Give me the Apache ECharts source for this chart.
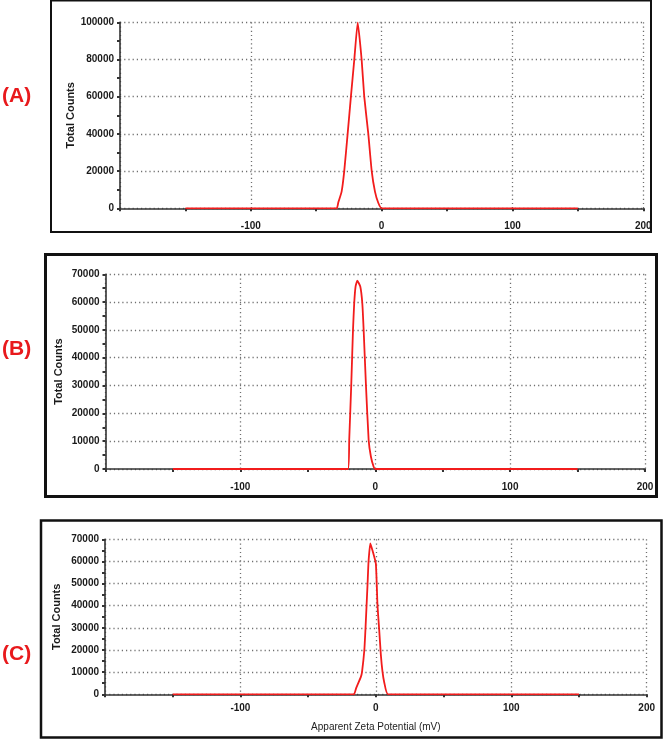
<!DOCTYPE html>
<html>
<head>
<meta charset="utf-8">
<script src="https://cdn.jsdelivr.net/npm/echarts@6/dist/echarts.min.js"></script>
<style>
html,body{margin:0;padding:0;background:#fff;}
#chart{width:664px;height:739px;}
</style>
</head>
<body>
<div id="chart"></div>
<script>
// ---- data (mV, total counts) ----
const panelLabels = ['(A)', '(B)', '(C)'];
const xTitle = 'Apparent Zeta Potential (mV)';
const yTitle = 'Total Counts';
const xMin = -200, xMax = 200, xStep = 100;
const yMaxA = 100000, yStepA = 20000;
const yMaxB = 70000, yStepB = 10000;
const yMaxC = 70000, yStepC = 10000;

const seriesA = [[-150,0],[-34.4,0],[-33.2,3000],[-30.6,9000],[-28.6,20000],[-26,40000],[-23.5,60000],[-20.9,80000],[-18.3,100000],[-15.3,80000],[-13.3,60000],[-10.2,40000],[-7.6,20000],[-5.1,9000],[-2.6,3000],[0,0],[150,0]];
const seriesB = [[-150,0],[-20.2,0],[-19.3,10400],[-17.8,30200],[-16.5,50000],[-15.6,59600],[-14.6,65600],[-13.3,67700],[-11.1,65600],[-9.6,59600],[-8.6,50000],[-6.9,30200],[-4.9,10400],[-3.2,4400],[-1.2,800],[0,0],[150,0]];
const seriesC = [[-150,0],[-16.3,0],[-14.6,2700],[-11.0,8000],[-10.2,10100],[-8.5,20000],[-7.6,30300],[-6.1,50100],[-5.4,59900],[-4.1,68200],[-2.4,64800],[0,59000],[1.2,40300],[2.4,29800],[3.7,17800],[4.9,10200],[6.1,5700],[9,0],[150,0]];

// ---- layout ----
const grids = [
  {left: 120, top: 22.3, width: 523.3, height: 186},
  {left: 105.5, top: 274.3, width: 539.5, height: 194.7},
  {left: 105, top: 539.3, width: 541.7, height: 155}
];
const yCfg = [[yMaxA, yStepA], [yMaxB, yStepB], [yMaxC, yStepC]];
const data = [seriesA, seriesB, seriesC];
const xLabelMargin = [13, 13, 9];
const yNameGap = [44, 41.5, 42.5];

const axisColor = '#333';
const gridLine = {show: true, lineStyle: {color: '#6f6f6f', type: [1.2, 3], width: 1.3}};
const font = 'Liberation Sans, Arial, sans-serif';

const option = {
  animation: false,
  backgroundColor: '#fff',
  grid: grids.map(g => Object.assign({containLabel: false}, g)),
  xAxis: grids.map((g, i) => ({
    gridIndex: i, type: 'value', min: xMin, max: xMax, interval: xStep,
    axisLine: {show: true, onZero: false, lineStyle: {color: axisColor, width: 1.6}},
    axisTick: {show: true, length: 3, lineStyle: {color: axisColor, width: 2}},
    minorTick: {show: true, splitNumber: 2, length: 3, lineStyle: {color: axisColor, width: 2}},
    splitLine: gridLine,
    axisLabel: {
      color: '#1a1a1a', fontSize: 10, fontWeight: 'bold', fontFamily: font, margin: xLabelMargin[i],
      formatter: v => (v === xMin ? '' : String(v))
    },
    name: i === 2 ? xTitle : '', nameLocation: 'middle', nameGap: 28, nameMoveOverlap: false,
    nameTextStyle: {color: '#222', fontSize: 10, fontFamily: font}
  })),
  yAxis: grids.map((g, i) => ({
    gridIndex: i, type: 'value', min: 0, max: yCfg[i][0], interval: yCfg[i][1],
    axisLine: {show: true, onZero: false, lineStyle: {color: axisColor, width: 1.6}},
    axisTick: {show: true, length: 3, lineStyle: {color: axisColor, width: 2}},
    minorTick: {show: true, splitNumber: 2, length: 3, lineStyle: {color: axisColor, width: 2}},
    splitLine: gridLine,
    axisLabel: {color: '#1a1a1a', fontSize: 10, fontWeight: 'bold', fontFamily: font, margin: 6,
      formatter: v => String(v)},
    name: yTitle, nameLocation: 'middle', nameRotate: 90, nameGap: yNameGap[i], nameMoveOverlap: false,
    nameTextStyle: {color: '#1a1a1a', fontSize: 11, fontWeight: 'bold', fontFamily: font}
  })),
  series: data.map((d, i) => ({
    type: 'line', xAxisIndex: i, yAxisIndex: i, data: d,
    showSymbol: false, symbol: 'none', smooth: 0.15,
    lineStyle: {color: '#f21c1c', width: 1.8},
    z: 3
  })),
  graphic: [
    {type: 'rect', shape: {x: 51, y: 0.5, width: 600, height: 231.5}, style: {fill: 'none', stroke: '#111', lineWidth: 2}, z: 10},
    {type: 'rect', shape: {x: 45.5, y: 254.5, width: 611, height: 242}, style: {fill: 'none', stroke: '#111', lineWidth: 3}, z: 10},
    {type: 'rect', shape: {x: 41, y: 520.5, width: 620.5, height: 217}, style: {fill: 'none', stroke: '#111', lineWidth: 2.5}, z: 10},
    {type: 'text', left: 2, top: 86, style: {text: panelLabels[0], fill: '#e8191c', font: 'bold 21px Liberation Sans, Arial, sans-serif'}},
    {type: 'text', left: 2, top: 339, style: {text: panelLabels[1], fill: '#e8191c', font: 'bold 21px Liberation Sans, Arial, sans-serif'}},
    {type: 'text', left: 2, top: 644, style: {text: panelLabels[2], fill: '#e8191c', font: 'bold 21px Liberation Sans, Arial, sans-serif'}}
  ]
};

const chart = echarts.init(document.getElementById('chart'), null, {renderer: 'canvas'});
chart.setOption(option);
</script>
</body>
</html>
